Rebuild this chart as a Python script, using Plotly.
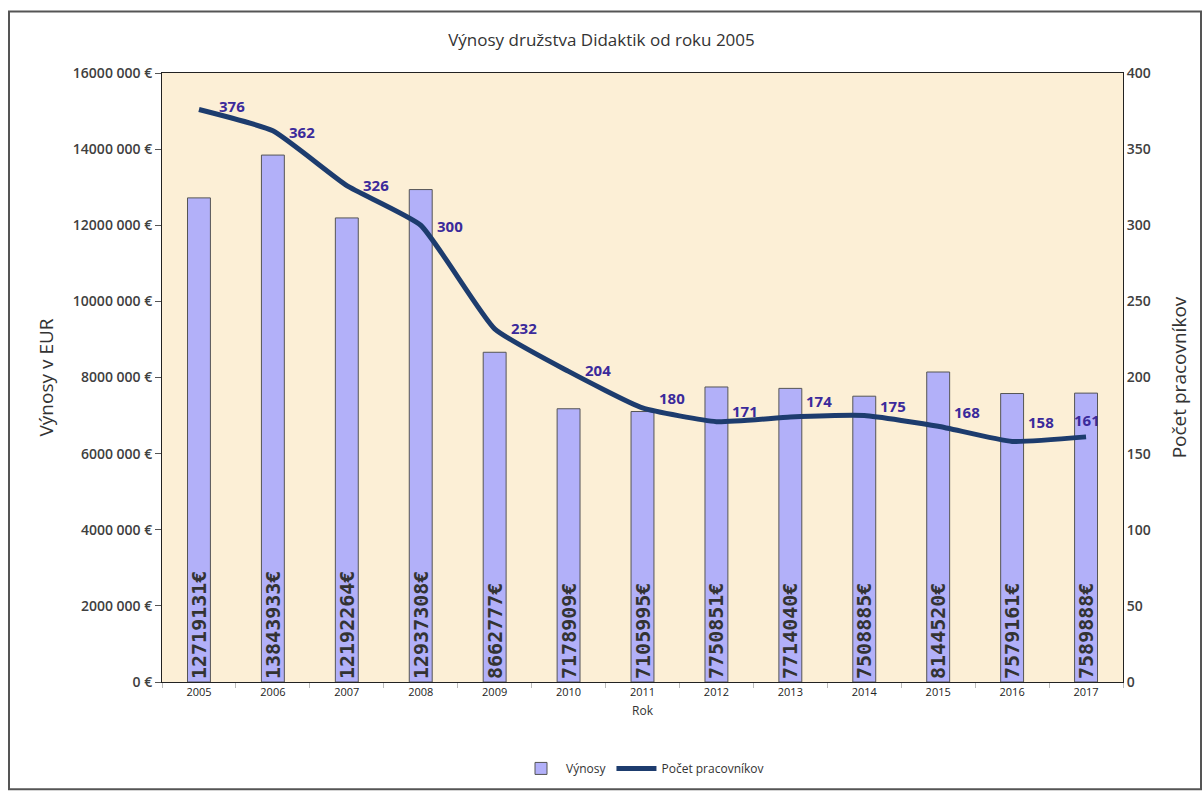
import plotly.graph_objects as go

years = ["2005", "2006", "2007", "2008", "2009", "2010", "2011", "2012", "2013", "2014", "2015", "2016", "2017"]
revenue = [12719131, 13843933, 12192264, 12937308, 8662777, 7178909, 7105995, 7750851, 7714040, 7508885, 8144520, 7579161, 7589888]
workers = [376, 362, 326, 300, 232, 204, 180, 171, 174, 175, 168, 158, 161]
left_ticks = [0, 2000000, 4000000, 6000000, 8000000, 10000000, 12000000, 14000000, 16000000]
left_tick_text = ["0 €", "2000 000 €", "4000 000 €", "6000 000 €", "8000 000 €", "10000 000 €", "12000 000 €", "14000 000 €", "16000 000 €"]

# label placement (style only, pixels)
label_dx = [18, 14, 14, 14, 14, 14, 14, 14, 14, 14, 14, 14, -14]
label_dy = [4, -1, 1, -1, 1, 1, 10, 11, 16, 10, 14, 19, 17]

FONT = "Open Sans"

fig = go.Figure()
fig.add_trace(go.Bar(
    x=years, y=revenue, name="Výnosy",
    marker=dict(color="#b2b0f9", line=dict(color="#555555", width=1)),
    text=[f"{v}€" for v in revenue],
    textposition="inside", insidetextanchor="start", textangle=-90,
    constraintext="none",
    textfont=dict(family="DejaVu Sans Mono", size=20, color="#333333", weight="bold"),
    hoverinfo="skip",
))
fig.add_trace(go.Scatter(
    x=years, y=workers, name="Počet pracovníkov", yaxis="y2",
    mode="lines", line=dict(color="#1d3c6e", width=5, shape="spline", smoothing=0.45),
    hoverinfo="skip",
))
# category index positions on the category x axis
for i, w in enumerate(workers):
    fig.add_annotation(x=i, y=w, xref="x", yref="y2", text=str(w), showarrow=False,
                       xanchor="left", yanchor="middle", xshift=label_dx[i], yshift=label_dy[i],
                       font=dict(family=FONT, size=15, color="#3b2a9b", weight="bold"))

W, H = 1203, 795
L, R, T, B = 162, 80, 73, 109
pw, ph = W - L - R, H - T - B

fig.update_layout(
    width=W, height=H,
    margin=dict(l=L, r=R, t=T, b=B),
    paper_bgcolor="white", plot_bgcolor="#fcefd6",
    font=dict(family=FONT, color="#404040"),
    title=dict(text="Výnosy družstva Didaktik od roku 2005", x=0.5, xanchor="center",
               y=1 - 40 / H, yanchor="middle", font=dict(size=17, color="#333333")),
    bargap=0.69,
    showlegend=True,
    legend=dict(orientation="h", x=0.5, xanchor="center", y=-(773 - (T + ph)) / ph, yanchor="middle",
                font=dict(size=12, color="#333333"), itemwidth=40, traceorder="normal"),
    xaxis=dict(type="category", range=[-0.5, len(years) - 0.5],
               title=dict(text="Rok", font=dict(size=12, color="#333333"), standoff=8),
               tickfont=dict(size=11, color="#222222"),
               showline=True, linecolor="#222222", mirror=True,
               ticks="outside", tickson="boundaries", ticklen=5, tickcolor="#bbbbbb",
               showgrid=False),
    yaxis=dict(title=dict(text="Výnosy v EUR", font=dict(size=19, color="#333333"), standoff=14),
               range=[0, 16000000], tickvals=left_ticks, ticktext=left_tick_text,
               tickfont=dict(size=14, color="#404040", weight=600),
               showline=True, linecolor="#222222", ticks="outside", ticklen=6, tickcolor="#555555",
               showgrid=False, zeroline=False),
    yaxis2=dict(title=dict(text="Počet pracovníkov", font=dict(size=19, color="#333333"), standoff=22),
                overlaying="y", side="right", range=[0, 400], dtick=50,
                tickfont=dict(size=14, color="#404040", weight=600),
                showline=True, linecolor="#222222", ticks="", showgrid=False, zeroline=False),
)

fig.add_shape(type="rect", xref="paper", yref="paper",
              x0=(9 - L) / pw, x1=(1201 - L) / pw,
              y0=-(794 - (T + ph)) / ph, y1=(T + ph - 11) / ph,
              line=dict(color="#555555", width=2), fillcolor="rgba(0,0,0,0)", layer="below")

fig.write_html("out.html")
